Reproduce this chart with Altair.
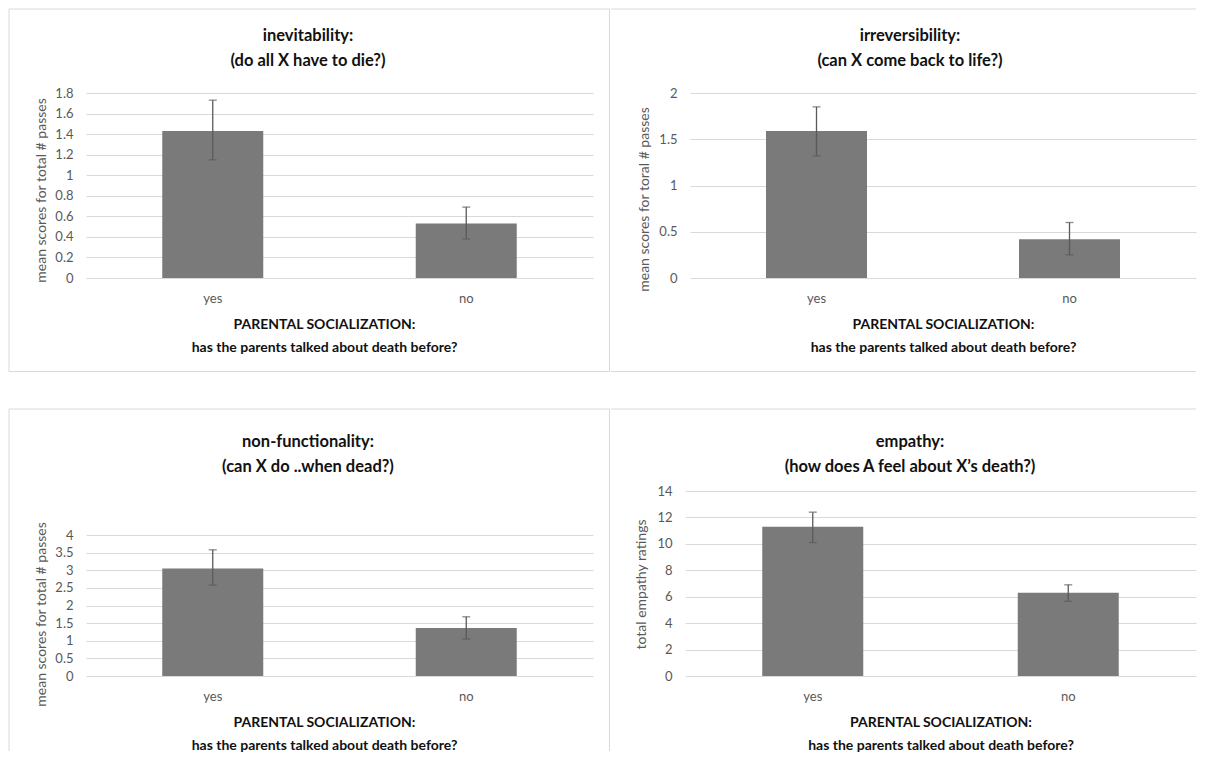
import altair as alt
import pandas as pd

# ---------------- data ----------------
categories = ["yes", "no"]
x_title = ["PARENTAL SOCIALIZATION:", "has the parents talked about death before?"]

inev_title = ["inevitability:", "(do all X have to die?)"]
inev_ytitle = "mean scores for total # passes"
inev_mean = [1.43, 0.53]
inev_low = [1.15, 0.38]
inev_high = [1.73, 0.69]
inev_ticks = [0, 0.2, 0.4, 0.6, 0.8, 1, 1.2, 1.4, 1.6, 1.8]

irrev_title = ["irreversibility:", "(can X come back to life?)"]
irrev_ytitle = "mean scores for toral  # passes"
irrev_mean = [1.59, 0.42]
irrev_low = [1.32, 0.25]
irrev_high = [1.85, 0.60]
irrev_ticks = [0, 0.5, 1, 1.5, 2]

nonf_title = ["non-functionality:", "(can X do  ..when dead?)"]
nonf_ytitle = "mean scores for total # passes"
nonf_mean = [3.05, 1.36]
nonf_low = [2.58, 1.05]
nonf_high = [3.58, 1.68]
nonf_ticks = [0, 0.5, 1, 1.5, 2, 2.5, 3, 3.5, 4]

emp_title = ["empathy:", "(how does  A feel about X\u2019s death?)"]
emp_ytitle = "total empathy ratings"
emp_mean = [11.3, 6.3]
emp_low = [10.1, 5.65]
emp_high = [12.4, 6.9]
emp_ticks = [0, 2, 4, 6, 8, 10, 12, 14]

FONT = "Lato"
BAR = "#7a7a7a"
ERR = "#5a5a5a"
GRID = "#d9d9d9"
LABEL = "#595959"
BORDER = "#d9d9d9"

one = pd.DataFrame({"d": [0]})


def panel(mean, low, high, ticks, title, ytitle, W, H, lay):
    df = pd.DataFrame({"cat": categories, "mean": mean, "low": low, "high": high})
    xscale = alt.Scale(paddingInner=0.5, paddingOuter=0.25)
    xaxis_args = dict(
        title=x_title, labelAngle=0, ticks=False, domain=False, grid=False,
        labelPadding=14, labelFontSize=13, labelColor=LABEL, labelFont=FONT,
        titleFont=FONT, titleFontSize=14, titleFontWeight="bold", titleColor="#111111",
        titleLineHeight=23, titleY=39, titleBaseline="top",
        titleAlign="center", titleAnchor="middle",
    )
    if "xtx" in lay:
        xaxis_args["titleX"] = lay["xtx"]
    xaxis = alt.Axis(**xaxis_args)
    ymax = lay.get("ymax", ticks[-1])
    yscale = alt.Scale(domain=[0, ymax], nice=False, zero=True)
    yaxis = alt.Axis(
        title=ytitle, values=ticks, format="~g", grid=True, gridColor=GRID,
        gridWidth=1, domain=False, ticks=False, labelPadding=13, labelFontSize=13,
        labelColor=LABEL, labelFont=FONT, titleFont=FONT, titleFontSize=14,
        titleFontWeight="normal", titleColor=LABEL, titleX=lay["ytx"],
        titleY=lay["yty"], titleAngle=270, titleAlign="center",
        titleBaseline="middle",
    )
    X = alt.X("cat:N", sort=categories, scale=xscale, axis=xaxis)
    base = alt.Chart(df)
    bars = base.mark_bar(color=BAR, size=101).encode(
        x=X, y=alt.Y("mean:Q", scale=yscale, axis=yaxis)
    )
    err = base.mark_rule(color=ERR, strokeWidth=1.3).encode(
        x=X, y=alt.Y("low:Q", scale=yscale, axis=yaxis), y2="high:Q"
    )
    cap_hi = base.mark_tick(color=ERR, size=8, thickness=1.3).encode(
        x=X, y=alt.Y("high:Q", scale=yscale, axis=yaxis)
    )
    cap_lo = base.mark_tick(color=ERR, size=8, thickness=1.3).encode(
        x=X, y=alt.Y("low:Q", scale=yscale, axis=yaxis)
    )
    layers = [bars, err, cap_hi, cap_lo]
    # chart title (two lines)
    for i, line in enumerate(title):
        layers.append(
            alt.Chart(one).mark_text(
                font=FONT, fontSize=16.5, fontWeight="bold", color="#111111",
                align="center", baseline="middle",
            ).encode(x=alt.value(lay["tx"]), y=alt.value(lay["ty"][i]), text=alt.value(line))
        )
    # panel borders
    for (x1, x2, y1) in lay["hlines"]:
        layers.append(
            alt.Chart(one).mark_rule(color=BORDER, strokeWidth=1).encode(
                x=alt.value(x1), x2=alt.value(x2), y=alt.value(y1)
            )
        )
    for (x1, y1, y2, op) in lay["vlines"]:
        layers.append(
            alt.Chart(one).mark_rule(color=BORDER, strokeWidth=1, strokeOpacity=op).encode(
                x=alt.value(x1), y=alt.value(y1), y2=alt.value(y2)
            )
        )
    return alt.layer(*layers).properties(width=W, height=H)


p1 = panel(inev_mean, inev_low, inev_high, inev_ticks, inev_title, inev_ytitle, 507, 185, {
    "xtx": 238, "ytx": -45, "yty": 97, "tx": 222, "ty": [-57, -32.5],
    "hlines": [(-77, 523.5, -84), (-77, 523.5, 278.5)],
    "vlines": [(-77, -84, 278.5, 1), (523.5, -84, 278.5, 1)],
})
p2 = panel(irrev_mean, irrev_low, irrev_high, irrev_ticks, irrev_title, irrev_ytitle, 506, 185, {
    "ytx": -46, "yty": 106, "tx": 220, "ty": [-57, -32.5],
    "hlines": [(-79, 506, -84), (-79, 506, 278.5)],
    "vlines": [(-79, -84, 278.5, 0)],
})
p3 = panel(nonf_mean, nonf_low, nonf_high, nonf_ticks, nonf_title, nonf_ytitle, 507, 185, {
    "ymax": 5.25, "xtx": 238,
    "ytx": -45, "yty": 123, "tx": 222, "ty": [-49.5, -24.5],
    "hlines": [(-77, 523.5, -82)],
    "vlines": [(-77, -82, 260, 1), (523.5, -82, 260, 1)],
})
p4 = panel(emp_mean, emp_low, emp_high, emp_ticks, emp_title, emp_ytitle, 511, 185, {
    "ytx": -44, "yty": 93, "tx": 225, "ty": [-49.5, -24.5],
    "hlines": [(-74, 511, -82)],
    "vlines": [(-74, -82, 260, 0)],
})

row1 = alt.hconcat(p1, p2, spacing=0)
row2 = alt.hconcat(p3, p4, spacing=0)
chart = (
    alt.vconcat(row1, row2, spacing=36)
    .properties(padding=0, background="white")
    .configure(font=FONT)
    .configure_view(stroke=None)
)

chart.save("out.html", embed_options={"renderer": "svg", "actions": False})
